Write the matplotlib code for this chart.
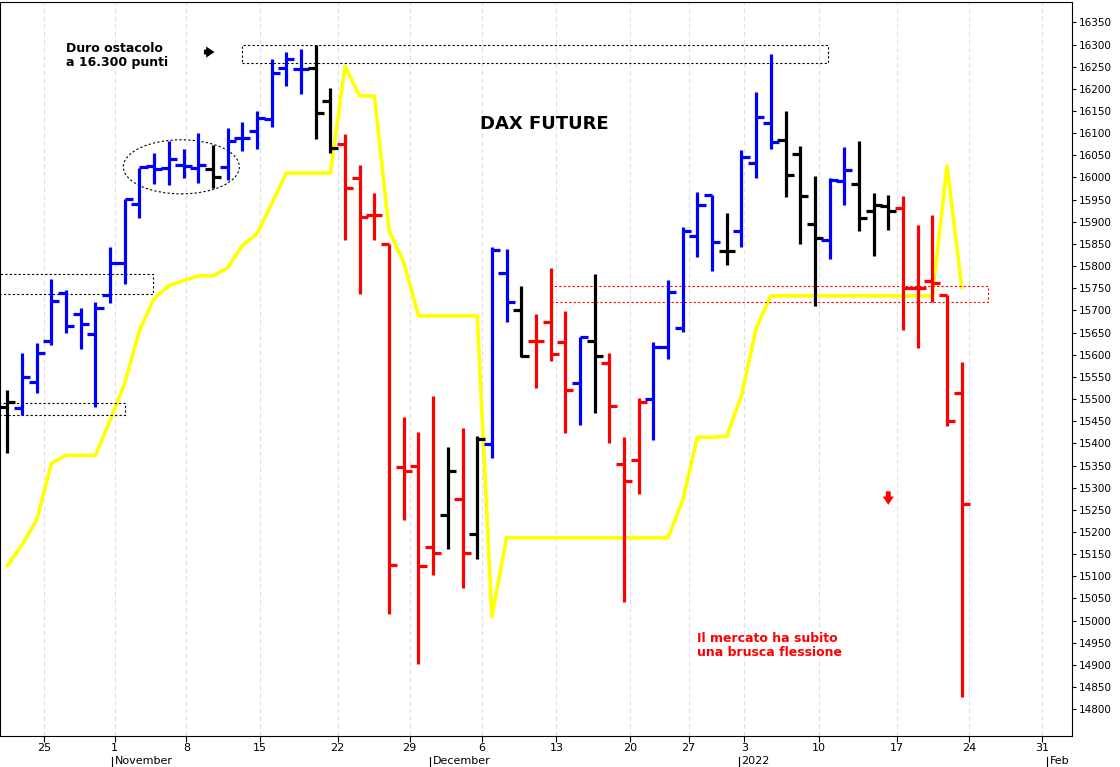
import matplotlib.pyplot as plt
from matplotlib.patches import Rectangle, Ellipse
import matplotlib.transforms as mtransforms

# OHLC bars, one per trading day (index 0 = first bar on the left)
highs = [15520, 15603, 15626, 15772, 15745, 15706, 15718, 15842, 15952, 16022,
         16055, 16082, 16064, 16100, 16073, 16112, 16125, 16150, 16267, 16283,
         16289, 16298, 16201, 16098, 16028, 15965, 15850, 15459, 15425, 15506,
         15392, 15434, 15416, 15844, 15839, 15756, 15691, 15796, 15698, 15639,
         15783, 15603, 15414, 15502, 15628, 15768, 15888, 15968, 15961, 15920,
         16061, 16193, 16279, 16150, 16072, 16004, 15998, 16069, 16082, 15965,
         15961, 15959, 15893, 15915, 15734, 15584]
lows = [15378, 15463, 15513, 15621, 15650, 15614, 15482, 15716, 15760, 15909,
        15985, 15983, 15999, 15988, 15977, 15995, 16060, 16064, 16114, 16206,
        16188, 16087, 16055, 15860, 15736, 15860, 15016, 15227, 14903, 15104,
        15162, 15074, 15140, 15367, 15675, 15596, 15524, 15585, 15423, 15441,
        15468, 15400, 15041, 15286, 15407, 15590, 15652, 15820, 15789, 15802,
        15844, 15998, 16064, 15955, 15849, 15711, 15815, 15937, 15879, 15822,
        15881, 15656, 15615, 15720, 15440, 14827]
opens = [15482, 15479, 15538, 15632, 15740, 15693, 15646, 15734, 15806, 15940,
         16026, 16022, 16028, 16022, 16019, 16024, 16089, 16105, 16132, 16246,
         16244, 16246, 16172, 16076, 15999, 15916, 15850, 15346, 15349, 15166,
         15238, 15274, 15196, 15398, 15785, 15700, 15630, 15675, 15628, 15536,
         15632, 15581, 15353, 15362, 15500, 15617, 15660, 15867, 15961, 15835,
         15879, 16033, 16124, 16085, 16052, 15896, 15859, 15991, 15986, 15925,
         15935, 15932, 15750, 15766, 15734, 15513]
closes = [15493, 15549, 15605, 15722, 15664, 15670, 15706, 15806, 15952, 16024,
          16019, 16042, 16026, 16028, 16001, 16082, 16089, 16134, 16235, 16267,
          16244, 16145, 16066, 15977, 15911, 15916, 15126, 15337, 15124, 15153,
          15337, 15153, 15409, 15837, 15720, 15598, 15630, 15601, 15520, 15639,
          15598, 15484, 15315, 15493, 15617, 15742, 15880, 15939, 15854, 15835,
          16047, 16137, 16079, 16005, 15959, 15864, 15994, 16017, 15908, 15937,
          15925, 15750, 15750, 15761, 15451, 15264]
bar_colors = (["k"] + ["b"] * 13 + ["k"] + ["b"] * 6 + ["k"] * 2 + ["r"] * 7
              + ["k", "r", "k", "b", "b", "k", "r", "r", "r", "b", "k", "r", "r", "r"]
              + ["b"] * 5 + ["k"] + ["b"] * 3 + ["k"] * 3 + ["b"] * 2 + ["k"] * 3 + ["r"] * 5)

# yellow line
yellow = [15124, 15171, 15227, 15355, 15373, 15373, 15373, 15452, 15536, 15655,
          15727, 15756, 15767, 15778, 15778, 15796, 15846, 15873, 15940, 16010,
          16010, 16010, 16010, 16251, 16184, 16184, 15880, 15808, 15688, 15688,
          15688, 15688, 15688, 15009] + [15187] * 12 + [15272, 15414, 15414, 15416,
          15508, 15659] + [15733] * 12 + [16026, 15752]

week_ticks = [2.5, 7.3, 12.2, 17.2, 22.5, 27.4, 32.3, 37.4, 42.4, 46.4, 50.2, 55.3, 60.6, 65.5, 70.5]
week_labels = ["25", "1", "8", "15", "22", "29", "6", "13", "20", "27", "3", "10", "17", "24", "31"]
months = [("November", 7.3), ("December", 29.0), ("2022", 50.0), ("Feb", 71.0)]

fig = plt.figure(figsize=(11.2, 7.67), dpi=100)
ax = fig.add_axes([0.0, 0.04, 0.957, 0.958])

x = list(range(len(highs)))
for i in x:
    c = {"k": "black", "b": "#0000ff", "r": "#ff0000"}[bar_colors[i]]
    ax.vlines(i, lows[i], highs[i], color=c, lw=2.3)
    ax.hlines(opens[i], i - 0.55, i, color=c, lw=2.3)
    ax.hlines(closes[i], i, i + 0.55, color=c, lw=2.3)

ax.plot(x, yellow, color="#ffff00", lw=2.6, zorder=1)

# dashed boxes
box = dict(fill=False, ls=(0, (2, 2)), lw=0.8)
ax.add_patch(Rectangle((16.0, 16258), 39.9, 40, ec="black", **box))
ax.add_patch(Rectangle((-0.6, 15738), 10.5, 45, ec="black", **box))
ax.add_patch(Rectangle((-0.6, 15463), 8.6, 27, ec="black", **box))
ax.add_patch(Rectangle((37.0, 15718), 29.8, 36, ec="red", **box))
ax.add_patch(Ellipse((11.85, 16024), 7.9, 122, fill=False, ec="black", ls=(0, (2, 2)), lw=0.8))

ax.text(4.0, 16275, "Duro ostacolo\na 16.300 punti", fontsize=9, fontweight="bold",
        va="center", linespacing=1.1)
ax.annotate("", xy=(14.3, 16283), xytext=(13.2, 16283),
            arrowprops=dict(arrowstyle="simple,head_width=0.8,head_length=0.6,tail_width=0.35",
                            color="black", lw=0))
ax.text(36.6, 16120, "DAX FUTURE", fontsize=13, fontweight="bold", ha="center", va="center")
ax.text(47.0, 14945, "Il mercato ha subito\nuna brusca flessione", fontsize=9,
        fontweight="bold", color="red", va="center", linespacing=1.1)
ax.annotate("", xy=(60.0, 15255), xytext=(60.0, 15298),
            arrowprops=dict(arrowstyle="simple,head_width=0.8,head_length=0.6,tail_width=0.35",
                            color="red", lw=0))

ax.set_xlim(-0.5, 72.5)
ax.set_ylim(14739, 16397)
ax.yaxis.tick_right()
ax.set_yticks(range(14800, 16351, 50))
ax.tick_params(axis="y", labelsize=7.5, length=3, pad=2)
ax.set_xticks(week_ticks)
ax.set_xticklabels(week_labels)
ax.tick_params(axis="x", labelsize=8, length=4, pad=1)
for t in week_ticks:
    ax.axvline(t, color="#dcdcf2", lw=0.8, ls=(0, (4, 3)), zorder=0)

trans = mtransforms.blended_transform_factory(ax.transData, ax.transAxes)
for name, pos in months:
    ax.text(pos, -0.027, name, transform=trans, fontsize=8, va="top", ha="left")
    ax.plot([pos - 0.2, pos - 0.2], [-0.028, -0.045], transform=trans, color="black",
            lw=0.8, clip_on=False)

for s in ax.spines.values():
    s.set_linewidth(0.8)

fig.savefig("out.png", dpi=100)
